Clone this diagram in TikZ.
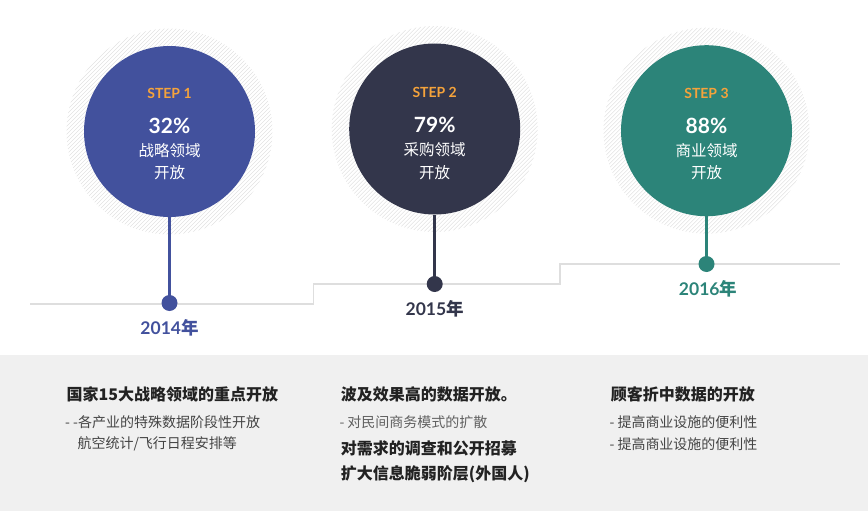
\documentclass[tikz,border=0pt]{standalone}
\usepackage{fontspec}
\setmainfont{Lato}
\newfontfamily\cjk{Noto Sans CJK SC}
\definecolor{cblue}{HTML}{42519D}
\definecolor{cnavy}{HTML}{33364B}
\definecolor{cteal}{HTML}{2C8479}
\definecolor{corange}{HTML}{F5A33B}
\definecolor{cline}{HTML}{DEDEDE}
\definecolor{cband}{HTML}{F0F0F0}
\definecolor{chatch}{HTML}{E2E2E2}
\definecolor{ctitle}{HTML}{222222}
\definecolor{ctext}{HTML}{444444}
\begin{document}
\begin{tikzpicture}[x=1pt,y=-1pt,
  bigcirc/.style={circle, minimum size=171pt, inner sep=0pt, draw=none},
  steplbl/.style={text=corange, font=\fontsize{14}{16}\selectfont\bfseries, inner sep=0pt},
  pctlbl/.style={text=white, font=\fontsize{21}{23}\selectfont\bfseries, inner sep=0pt},
  cnlbl/.style={text=white, font=\cjk\fontsize{15.5}{17}\selectfont, inner sep=0pt},
  dotnode/.style={circle, minimum size=16pt, inner sep=0pt},
  stem/.style={line width=3pt},
  baseline/.style={draw=cline, line width=1.2pt},
  yearlbl/.style={font=\fontsize{17.5}{20}\selectfont\bfseries, inner sep=0pt},
  btitle/.style={anchor=west, text=ctitle, font=\cjk\bfseries\fontsize{16}{18}\selectfont, inner sep=0pt},
  bline/.style={anchor=west, text=ctext, font=\cjk\fontsize{14}{16}\selectfont, inner sep=0pt},
  bbold/.style={anchor=west, text=ctitle, font=\cjk\bfseries\fontsize{16}{18}\selectfont, inner sep=0pt}
]
\useasboundingbox (0,0) rectangle (868,511);
\fill[cband] (0,355) rectangle (868,511);
% hatched halos
\foreach \cx/\cy in {169.5/131.5, 434.7/129, 706.5/130.7}{
  \begin{scope}
    \clip (\cx,\cy) circle[radius=103pt];
    \foreach \i in {-220,-216,...,220}
      \draw[chatch, line width=0.6pt] (\cx+\i-110,\cy+110) -- (\cx+\i+110,\cy-110);
  \end{scope}
}
% baseline
\coordinate (b0) at (30,304);
\coordinate (b1) at (313.5,304);
\coordinate (b2) at (313.5,284);
\coordinate (b3) at (560,284);
\coordinate (b4) at (560,264);
\coordinate (b5) at (840,264);
\draw[baseline] (b0) -- (b1) -- (b2) -- (b3) -- (b4) -- (b5);
% circles
\node[bigcirc, fill=cblue] (c1) at (169.5,131.5) {};
\node[bigcirc, fill=cnavy] (c2) at (434.7,129) {};
\node[bigcirc, fill=cteal] (c3) at (706.5,130.7) {};
% dots
\node[dotnode, fill=cblue] (d1) at (169.5,303) {};
\node[dotnode, fill=cnavy] (d2) at (434.7,284) {};
\node[dotnode, fill=cteal] (d3) at (706.5,264) {};
% stems
\draw[stem, cblue] (c1.south) -- (d1.center);
\draw[stem, cnavy] (c2.south) -- (d2.center);
\draw[stem, cteal] (c3.south) -- (d3.center);
% circle texts
\node[steplbl] (s1) at (169.5,93) {STEP 1};
\node[pctlbl] (p1) at (169.5,126) {32\%};
\node[cnlbl] (t1a) at (169.5,151) {战略领域};
\node[cnlbl] (t1b) at (169.5,173) {开放};
\node[steplbl] (s2) at (434.7,92) {STEP 2};
\node[pctlbl] (p2) at (434.7,125) {79\%};
\node[cnlbl] (t2a) at (434.7,150) {采购领域};
\node[cnlbl] (t2b) at (434.7,172.5) {开放};
\node[steplbl] (s3) at (706.5,93) {STEP 3};
\node[pctlbl] (p3) at (706.5,126) {88\%};
\node[cnlbl] (t3a) at (706.5,151) {商业领域};
\node[cnlbl] (t3b) at (706.5,173) {开放};
% year labels
\node[yearlbl, text=cblue] (y1) at (169.5,327.5) {2014{\cjk\bfseries 年}};
\node[yearlbl, text=cnavy] (y2) at (434.7,309) {2015{\cjk\bfseries 年}};
\node[yearlbl, text=cteal] (y3) at (708,289) {2016{\cjk\bfseries 年}};
% bottom texts
\node[btitle] (k1) at (66.5,394) {国家15大战略领域的重点开放};
\node[bline] (k1a) at (65,421.7) {- -各产业的特殊数据阶段性开放};
\node[bline] (k1b) at (77.3,443.3) {航空统计/飞行日程安排等};
\node[btitle] (k2) at (340.7,394.5) {波及效果高的数据开放。};
\node[bline, text=ctext!85] (k2a) at (339.3,421.7) {- 对民间商务模式的扩散};
\node[bbold] (k2b) at (340.7,448.3) {对需求的调查和公开招募};
\node[bbold] (k2c) at (340.7,474) {扩大信息脆弱阶层(外国人)};
\node[btitle] (k3) at (610.7,394) {顾客折中数据的开放};
\node[bline] (k3a) at (609.3,421.7) {- 提高商业设施的便利性};
\node[bline] (k3b) at (609.3,444) {- 提高商业设施的便利性};
\end{tikzpicture}
\end{document}
